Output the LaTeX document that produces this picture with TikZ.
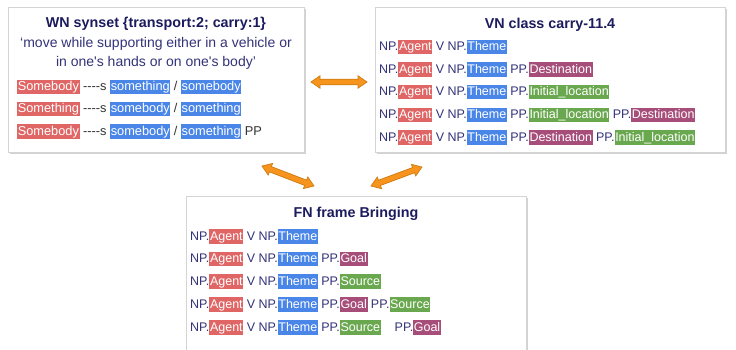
\documentclass[tikz,border=0pt]{standalone}
\usepackage{fontspec}
\setmainfont{Liberation Sans}[Ligatures=TeXOff]
\usetikzlibrary{calc,shadows}

\definecolor{navy}{HTML}{1B1B5E}
\definecolor{txt}{HTML}{33337A}
\definecolor{gry}{HTML}{333333}
\definecolor{cred}{HTML}{E06666}
\definecolor{cblue}{HTML}{4A86E8}
\definecolor{cpurp}{HTML}{A64D79}
\definecolor{cgreen}{HTML}{6AA84F}
\definecolor{orng}{HTML}{F7941D}
\definecolor{orngd}{HTML}{D07A10}
\definecolor{bord}{HTML}{D4D4D4}

\newcommand{\hlb}[2]{{\setlength{\fboxsep}{0pt}\colorbox{#1}{\rule[-3.6pt]{0pt}{14.6pt}\kern0.6pt\textcolor{white}{#2}\kern0.6pt}}}
\newcommand{\Ag}{NP.\hlb{cred}{Agent}}
\newcommand{\Th}{NP.\hlb{cblue}{Theme}}
\newcommand{\Ds}{PP.\hlb{cpurp}{Destination}}
\newcommand{\Il}{PP.\hlb{cgreen}{Initial\_location}}
\newcommand{\Gl}{PP.\hlb{cpurp}{Goal}}
\newcommand{\Sr}{PP.\hlb{cgreen}{Source}}

\newcommand{\dblarrow}[2]{%
  \coordinate (da1) at ($(#1)!9pt!(#2)$);
  \coordinate (da2) at ($(#2)!9pt!(#1)$);
  \filldraw[arrowsty] (#1) -- ($(da1)!6.2pt!90:(#2)$) -- ($(da1)!2.8pt!90:(#2)$)
    -- ($(da2)!2.8pt!-90:(#1)$) -- ($(da2)!6.2pt!-90:(#1)$) -- (#2)
    -- ($(da2)!6.2pt!90:(#1)$) -- ($(da2)!2.8pt!90:(#1)$)
    -- ($(da1)!2.8pt!-90:(#2)$) -- ($(da1)!6.2pt!-90:(#2)$) -- cycle;}

\tikzset{
  panel/.style={draw=bord, line width=0.8pt, fill=white, anchor=north west, inner sep=0pt,
    drop shadow={shadow xshift=1.2pt, shadow yshift=-1.5pt, opacity=0.35}},
  ttl/.style={anchor=base, inner sep=0pt, text=navy, font=\fontsize{14.3}{16}\selectfont\bfseries},
  gloss/.style={anchor=base, inner sep=0pt, text=txt, font=\fontsize{14}{16}\selectfont},
  row/.style={anchor=base west, inner sep=0pt, text=txt, font=\fontsize{12.5}{15}\selectfont},
  wrow/.style={anchor=base west, inner sep=0pt, text=gry, font=\fontsize{12.8}{15}\selectfont},
  arrowsty/.style={fill=orng, draw=orngd, line width=0.7pt, line join=miter},
}

\begin{document}
\begin{tikzpicture}[x=1pt, y=-1pt]
\clip (0,0) rectangle (736,349);
\fill[white] (0,0) rectangle (736,349);

% panels
\node[panel, minimum width=296pt, minimum height=145pt] (wn) at (8,7) {};
\node[panel, minimum width=350pt, minimum height=145pt] (vn) at (375,7) {};
\node[panel, minimum width=340pt, minimum height=170pt] (fn) at (186,196) {};

% WN
\node[ttl] (wnt) at (156,27.7) {WN synset \{transport:2; carry:1\}};
\node[gloss] (wng1) at (156,47.3) {‘move while supporting either in a vehicle or};
\node[gloss] (wng2) at (156,66.8) {in one's hands or on one's body’};
\node[wrow] (wr1) at (17,90.8) {\hlb{cred}{Somebody} ----s \hlb{cblue}{something} / \hlb{cblue}{somebody}};
\node[wrow] (wr2) at (17,112.8) {\hlb{cred}{Something} ----s \hlb{cblue}{somebody} / \hlb{cblue}{something}};
\node[wrow] (wr3) at (17,135) {\hlb{cred}{Somebody} ----s \hlb{cblue}{somebody} / \hlb{cblue}{something} PP};

% VN
\node[ttl] (vnt) at (550,28) {VN class carry-11.4};
\node[row] (vr1) at (379,50.5) {\Ag{} V \Th};
\node[row] (vr2) at (379,73.2) {\Ag{} V \Th{} \Ds};
\node[row] (vr3) at (379,95.6) {\Ag{} V \Th{} \Il};
\node[row] (vr4) at (379,118.5) {\Ag{} V \Th{} \Il{} \Ds};
\node[row] (vr5) at (379,141.3) {\Ag{} V \Th{} \Ds{} \Il};

% FN
\node[ttl] (fnt) at (356,217.7) {FN frame Bringing};
\node[row] (fr1) at (190,240.3) {\Ag{} V \Th};
\node[row] (fr2) at (190,262.8) {\Ag{} V \Th{} \Gl};
\node[row] (fr3) at (190,285.3) {\Ag{} V \Th{} \Sr};
\node[row] (fr4) at (190,308.3) {\Ag{} V \Th{} \Gl{} \Sr};
\node[row] (fr5) at (190,331) {\Ag{} V \Th{} \Sr\hspace{14pt}\Gl};

% arrows
\coordinate (a1s) at (311,82);  \coordinate (a1e) at (367,82);
\coordinate (a2s) at (262,166); \coordinate (a2e) at (314,186);
\coordinate (a3s) at (371,186); \coordinate (a3e) at (422,167);
\dblarrow{a1s}{a1e}
\dblarrow{a2s}{a2e}
\dblarrow{a3s}{a3e}
\end{tikzpicture}
\end{document}
